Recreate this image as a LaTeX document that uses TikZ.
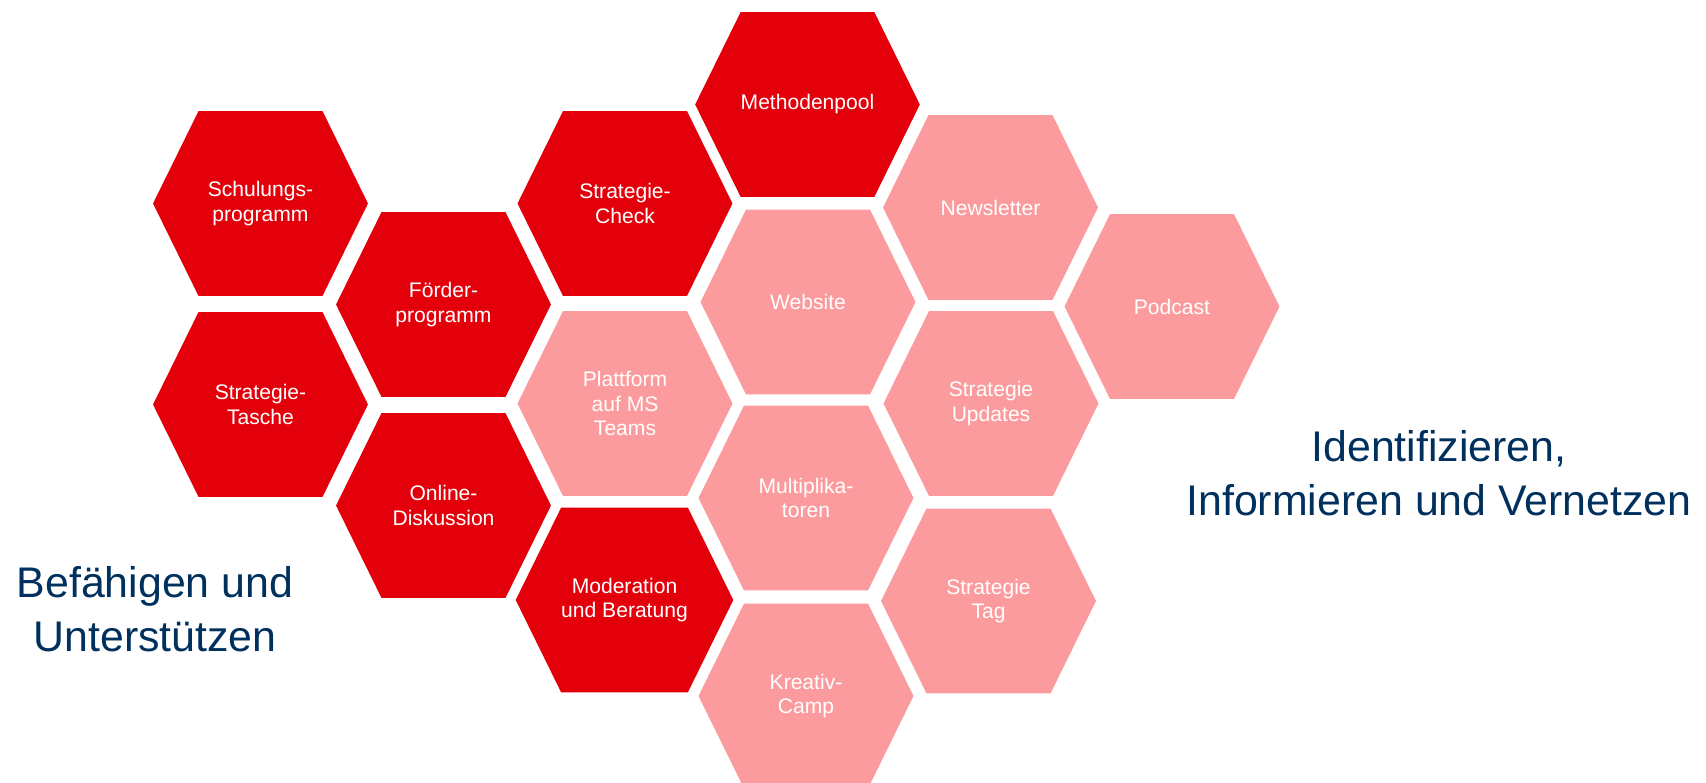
\documentclass[tikz,border=0pt]{standalone}
\usepackage{fontspec}
\setmainfont{Liberation Sans}
\usetikzlibrary{shapes.symbols}
\definecolor{strategyRed}{RGB}{227, 0, 11}
\definecolor{strategyPink}{RGB}{252, 155, 157}
\definecolor{strategyNavy}{RGB}{0, 48, 94}

\begin{document}
\begin{tikzpicture}[x=0.02cm, y=-0.02cm]
    % Styles
    \tikzstyle{hexcell} = [signal, signal to=east and west, signal pointer angle=127.6, minimum width=4.3cm, minimum height=3.7cm, inner sep=0pt, text=white, align=center, font=\fontsize{12pt}{14pt}\selectfont]
    \tikzstyle{enablecell} = [hexcell, fill=strategyRed]
    \tikzstyle{informcell} = [hexcell, fill=strategyPink]
    \tikzstyle{claimtext} = [text=strategyNavy, align=center, inner sep=0pt, font=\fontsize{24.4pt}{30.6pt}\selectfont]

    \clip (0,0) rectangle (1706,783);

    % Befaehigen und Unterstuetzen
    \node[enablecell] (schulung) at (260.5, 203.5) {Schulungs-\\programm};
    \node[enablecell] (tasche) at (260.5, 404.5) {Strategie-\\Tasche};
    \node[enablecell] (foerder) at (443.5, 304.5) {Förder-\\programm};
    \node[enablecell] (online) at (443.5, 505.5) {Online-\\Diskussion};
    \node[enablecell] (check) at (625, 203.5) {Strategie-\\Check};
    \node[enablecell] (moderation) at (624.5, 600) {Moderation\\und Beratung};
    \node[enablecell] (methoden) at (807.5, 104.5) {Methodenpool};

    % Identifizieren, Informieren und Vernetzen
    \node[informcell] (plattform) at (625, 403.5) {Plattform\\auf MS\\Teams};
    \node[informcell] (website) at (808, 302) {Website};
    \node[informcell] (multi) at (806, 498) {Multiplika-\\toren};
    \node[informcell] (kreativ) at (806, 696) {Kreativ-\\Camp};
    \node[informcell] (newsletter) at (990.5, 207.5) {Newsletter};
    \node[informcell] (updates) at (991, 403.5) {Strategie\\Updates};
    \node[informcell] (tag) at (988.5, 601) {Strategie\\Tag};
    \node[informcell] (podcast) at (1172, 306.5) {Podcast};

    % Labels
    \node[claimtext] (befaehigen) at (155, 609) {Befähigen und\\Unterstützen};
    \node[claimtext] (vernetzen) at (1439, 473) {Identifizieren,\\Informieren und Vernetzen};
\end{tikzpicture}
\end{document}
